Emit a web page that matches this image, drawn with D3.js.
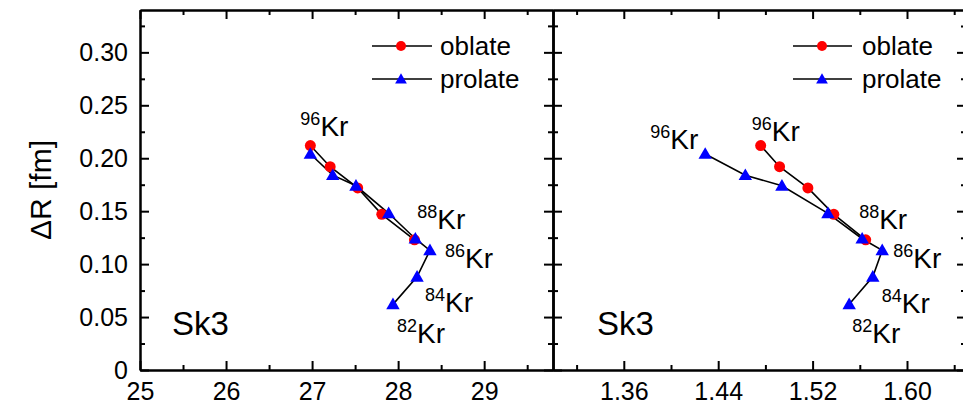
<!DOCTYPE html>
<html>
<head>
<meta charset="utf-8">
<script src="https://cdn.jsdelivr.net/npm/d3@7"></script>
<style>
  html, body { margin: 0; padding: 0; background: #fff; }
  svg { display: block; font-family: "Liberation Sans", Arial, sans-serif; }
  .axis path, .axis line { stroke: #000; }
  .axis path { stroke-width: 2; }
  .axis line { stroke-width: 2; }
  .axis text { font-size: 25px; fill: #000; font-family: "Liberation Sans", Arial, sans-serif; }
</style>
</head>
<body>
<svg id="chart" width="963" height="406"></svg>
<script>
// ---------- data ----------
const isotopes = ["96", "94", "92", "90", "88", "86", "84", "82"];
// ΔR values (shared by both panels)
const oblateDR  = [0.212, 0.192, 0.172, 0.147, 0.123];
const prolateDR = [0.204, 0.184, 0.174, 0.148, 0.124, 0.113, 0.088, 0.062];
// left panel x values
const leftOblateX  = [26.98, 27.21, 27.53, 27.81, 28.19];
const leftProlateX = [26.98, 27.24, 27.51, 27.89, 28.20, 28.37, 28.22, 27.94];
// right panel x values
const rightOblateX  = [1.476, 1.492, 1.516, 1.538, 1.565];
const rightProlateX = [1.429, 1.463, 1.494, 1.533, 1.562, 1.579, 1.571, 1.551];
// tick values
const leftMajorTicks  = [25, 26, 27, 28, 29];
const leftMinorTicks  = [25.5, 26.5, 27.5, 28.5, 29.5];
const rightMajorTicks = [1.36, 1.44, 1.52, 1.60];
const rightMinorTicks = [1.32, 1.40, 1.48, 1.56, 1.64];
const yMajorTicks = [0, 0.05, 0.10, 0.15, 0.20, 0.25, 0.30];
const yMinorTicks = [0.025, 0.075, 0.125, 0.175, 0.225, 0.275, 0.325];
const legendLabels = ["oblate", "prolate"];
const panelLabel = "Sk3";
const yTitle = "ΔR [fm]";

// ---------- layout ----------
const svg = d3.select("#chart");
const plotTop = 10, plotBottom = 370;
const y = d3.scaleLinear().domain([0, 0.34]).range([plotBottom, plotTop]);

const panels = [
  {
    x: d3.scaleLinear().domain([25, 29.8]).range([140, 553]),
    major: leftMajorTicks, minor: leftMinorTicks, fmt: d3.format("d"),
    obX: leftOblateX, prX: leftProlateX, showY: true,
    legend: { lx0: 372, lx1: 432, mx: 401, tx: 440 },
    sk3x: 172,
    labels: [
      { series: "ob", i: 0, dx: -10, dy: -10 },
      { series: "pr", i: 4, dx: 2, dy: -10 },
      { series: "pr", i: 5, dx: 15, dy: 18 },
      { series: "pr", i: 6, dx: 8, dy: 35 },
      { series: "pr", i: 7, dx: 4, dy: 39 }
    ]
  },
  {
    x: d3.scaleLinear().domain([1.30, 1.65]).range([553, 966]),
    major: rightMajorTicks, minor: rightMinorTicks, fmt: d3.format(".2f"),
    obX: rightOblateX, prX: rightProlateX, showY: false,
    legend: { lx0: 793, lx1: 852, mx: 822, tx: 862 },
    sk3x: 597,
    labels: [
      { series: "pr", i: 0, dx: -55, dy: -5 },
      { series: "ob", i: 0, dx: -9, dy: -5 },
      { series: "pr", i: 4, dx: -3, dy: -10 },
      { series: "pr", i: 5, dx: 11, dy: 18 },
      { series: "pr", i: 6, dx: 9, dy: 36 },
      { series: "pr", i: 7, dx: 3, dy: 39 }
    ]
  }
];

const yFmt = d => d === 0 ? "0" : d3.format(".2f")(d);
const majorLen = 9, minorLen = 5;

panels.forEach(p => {
  const x = p.x;
  const [x0, x1] = x.range();
  const g = svg.append("g");

  // bottom axis
  g.append("g").attr("class", "axis").attr("transform", `translate(0,${plotBottom})`)
    .call(d3.axisBottom(x).tickValues(p.major).tickFormat(p.fmt).tickSizeInner(-majorLen).tickSizeOuter(0).tickPadding(12));
  g.append("g").attr("class", "axis").attr("transform", `translate(0,${plotBottom})`)
    .call(d3.axisBottom(x).tickValues(p.minor).tickFormat("").tickSizeInner(-minorLen).tickSizeOuter(0));
  // top axis
  g.append("g").attr("class", "axis").attr("transform", `translate(0,${plotTop})`)
    .call(d3.axisTop(x).tickValues(p.major).tickFormat("").tickSizeInner(-majorLen).tickSizeOuter(0));
  g.append("g").attr("class", "axis").attr("transform", `translate(0,${plotTop})`)
    .call(d3.axisTop(x).tickValues(p.minor).tickFormat("").tickSizeInner(-minorLen).tickSizeOuter(0));
  // left axis
  g.append("g").attr("class", "axis").attr("transform", `translate(${x0},0)`)
    .call(d3.axisLeft(y).tickValues(yMajorTicks).tickFormat(p.showY ? yFmt : "").tickSizeInner(-majorLen).tickSizeOuter(0).tickPadding(12));
  g.append("g").attr("class", "axis").attr("transform", `translate(${x0},0)`)
    .call(d3.axisLeft(y).tickValues(yMinorTicks).tickFormat("").tickSizeInner(-minorLen).tickSizeOuter(0));
  // right axis
  g.append("g").attr("class", "axis").attr("transform", `translate(${x1},0)`)
    .call(d3.axisRight(y).tickValues(yMajorTicks).tickFormat("").tickSizeInner(-majorLen).tickSizeOuter(0));
  g.append("g").attr("class", "axis").attr("transform", `translate(${x1},0)`)
    .call(d3.axisRight(y).tickValues(yMinorTicks).tickFormat("").tickSizeInner(-minorLen).tickSizeOuter(0));

  const ob = oblateDR.map((v, i) => [p.obX[i], v]);
  const pr = prolateDR.map((v, i) => [p.prX[i], v]);
  const line = d3.line().x(d => x(d[0])).y(d => y(d[1]));

  g.append("path").datum(ob).attr("d", line).attr("fill", "none").attr("stroke", "#000").attr("stroke-width", 1.6);
  g.append("path").datum(pr).attr("d", line).attr("fill", "none").attr("stroke", "#000").attr("stroke-width", 1.6);

  g.selectAll("circle.ob").data(ob).join("circle").attr("class", "ob")
    .attr("cx", d => x(d[0])).attr("cy", d => y(d[1])).attr("r", 5.5).attr("fill", "#ff0000");
  const tri = d3.symbol().type(d3.symbolTriangle).size(78);
  g.selectAll("path.pr").data(pr).join("path").attr("class", "pr")
    .attr("d", tri).attr("transform", d => `translate(${x(d[0])},${y(d[1]) + 1})`).attr("fill", "#0000ff");

  // isotope labels
  p.labels.forEach(l => {
    const pt = l.series === "ob" ? ob[l.i] : pr[l.i];
    const t = g.append("text")
      .attr("x", x(pt[0]) + l.dx).attr("y", y(pt[1]) + l.dy)
      .attr("fill", "#000").style("font-size", "28px");
    t.append("tspan").text(isotopes[l.i]).style("font-size", "18px").attr("dy", -11);
    t.append("tspan").text("Kr").attr("dy", 11);
  });

  // panel label
  g.append("text").attr("x", p.sk3x).attr("y", 335).text(panelLabel)
    .style("font-size", "33px").attr("fill", "#000");

  // legend
  const L = p.legend;
  [46, 79].forEach((ly, k) => {
    g.append("line").attr("x1", L.lx0).attr("x2", L.lx1).attr("y1", ly).attr("y2", ly)
      .attr("stroke", "#000").attr("stroke-width", 1.6);
    if (k === 0) {
      g.append("circle").attr("cx", L.mx).attr("cy", ly).attr("r", 5).attr("fill", "#ff0000");
    } else {
      g.append("path").attr("d", d3.symbol().type(d3.symbolTriangle).size(60))
        .attr("transform", `translate(${L.mx},${ly + 1})`).attr("fill", "#0000ff");
    }
    g.append("text").attr("x", L.tx).attr("y", ly).attr("dy", "0.35em").text(legendLabels[k])
      .style("font-size", "26px").attr("fill", "#000");
  });
});

// y axis title
svg.append("text")
  .attr("transform", `translate(40,${(plotTop + plotBottom) / 2}) rotate(-90)`)
  .attr("text-anchor", "middle").attr("dy", "0.35em")
  .style("font-size", "30px").attr("fill", "#000")
  .text(yTitle);
</script>
</body>
</html>
